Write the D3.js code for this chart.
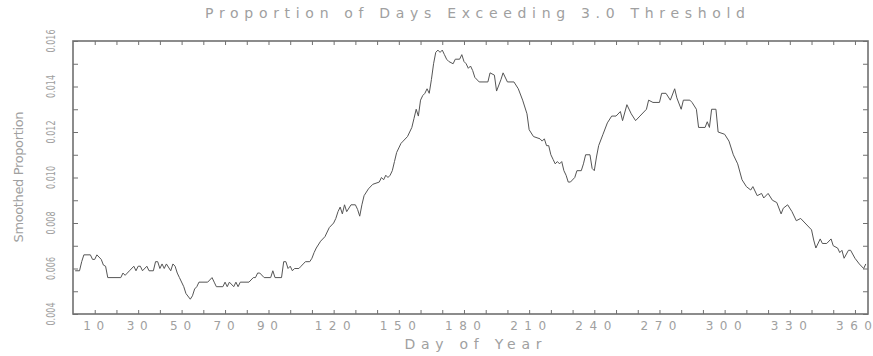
<!DOCTYPE html>
<html>
<head>
<meta charset="utf-8">
<script src="https://cdn.jsdelivr.net/npm/d3@7/dist/d3.min.js"></script>
<style>
  html, body { margin: 0; padding: 0; background: #fff; }
  svg { display: block; }
  text { font-family: "DejaVu Sans", sans-serif; font-weight: normal; fill: #a0a0a0; }
</style>
</head>
<body>
<svg id="chart" width="873" height="356"></svg>
<script>
// ---- data ----
const days = [
  1,3,4,5,8,9,10,11,13,14,
  15,16,22,23,24,25,26,28,29,30,
  31,32,34,35,37,38,39,40,41,42,
  43,45,46,47,48,49,51,52,54,55,
  56,57,58,62,64,65,66,69,70,71,
  72,74,75,76,77,81,83,84,85,86,
  88,91,92,93,96,97,98,99,100,101,
  102,104,105,106,107,109,110,111,112,114,
  116,118,120,121,122,123,124,125,126,128,
  130,131,132,133,134,136,138,141,142,143,
  144,145,146,147,148,149,150,151,152,154,
  156,157,158,159,160,161,162,163,164,165,
  166,167,168,169,170,171,172,173,175,176,
  178,179,180,181,182,183,184,185,187,191,
  192,194,195,197,198,200,203,205,207,209,
  210,212,215,216,217,218,219,220,221,222,
  223,224,225,226,227,228,229,231,232,234,
  235,236,238,239,240,241,242,244,246,248,
  250,252,253,255,257,259,261,264,265,267,
  270,271,273,275,277,278,280,281,284,285,
  287,288,291,292,293,294,296,297,300,302,
  304,306,308,310,312,313,315,317,318,320,
  322,324,326,327,329,331,333,335,337,340,
  341,342,344,345,347,349,350,352,353,354,
  355,357,358,360,362,364,365
];
const proportion = [
  .0059,.0059,.0063,.0066,.0066,.0064,.0064,.0066,.0064,.00615,
  .0061,.0056,.0056,.0058,.0057,.0058,.0059,.0061,.0059,.0061,
  .0061,.0059,.0061,.0059,.0059,.0063,.0063,.0060,.0062,.0060,
  .0062,.0059,.0062,.0061,.0058,.0056,.0052,.0049,.00465,.0048,
  .0051,.0052,.0054,.0054,.0056,.0054,.0052,.0052,.0054,.0052,
  .0054,.0052,.0054,.0052,.0054,.0054,.0056,.0056,.0058,.0058,
  .0056,.0056,.0059,.0056,.0056,.0063,.0063,.0060,.0061,.0059,
  .0060,.0060,.0061,.0062,.0063,.0063,.00645,.0067,.0069,.0072,
  .0074,.0078,.0080,.0082,.0085,.0087,.0084,.0088,.0085,.0088,
  .0088,.0086,.0083,.0088,.0092,.0095,.0097,.0098,.0100,.0099,
  .0101,.0100,.0101,.0103,.0107,.0111,.0113,.0115,.0116,.0118,
  .0122,.0126,.0130,.0127,.0134,.0136,.0137,.0139,.0137,.0143,
  .0150,.0155,.0156,.0155,.0156,.0154,.0152,.0151,.0150,.0152,
  .0152,.0154,.0151,.0150,.0148,.0149,.0147,.0144,.0142,.0142,
  .0146,.0145,.0138,.0143,.0146,.0142,.0142,.0139,.0134,.0128,
  .0121,.0118,.0117,.0116,.0117,.0114,.0114,.0110,.0108,.0106,
  .0107,.0106,.0107,.0103,.0101,.0098,.0098,.0100,.0103,.0103,
  .0106,.0110,.0110,.0104,.0103,.0109,.0114,.0119,.0124,.0127,
  .0127,.0129,.0125,.0132,.0128,.0125,.0127,.0130,.0134,.0133,
  .0133,.0137,.0137,.0134,.0139,.0135,.0130,.0134,.0134,.0133,
  .0130,.0122,.0122,.01245,.0122,.0130,.0130,.0120,.0119,.0116,
  .0110,.0106,.0099,.0096,.00945,.0096,.0092,.0093,.0091,.0093,
  .0090,.0089,.0084,.00865,.0088,.0085,.0081,.0082,.0080,.0077,
  .00725,.0069,.0073,.0071,.0071,.0073,.0070,.0069,.0067,.0068,
  .00645,.0068,.0068,.00645,.0062,.0060,.0062
];
const xLabelTicks = [10,30,50,70,90,120,150,180,210,240,270,300,330,360];
const xMinorTicks = d3.range(10, 361, 10);
const yLabelTicks = [0.004,0.006,0.008,0.010,0.012,0.014,0.016];
const yMinorTicks = [0.004,0.005,0.006,0.007,0.008,0.009,0.010,0.011,0.012,0.013,0.014,0.015,0.016];
const titleText = "Proportion of Days Exceeding 3.0 Threshold";
const xTitle = "Day of Year";
const yTitle = "Smoothed Proportion";

// ---- layout ----
const svg = d3.select("#chart");
const L = 73, R = 868, T = 41, B = 314;
const x = d3.scaleLinear().domain([0, 366]).range([L, R]);
const y = d3.scaleLinear().domain([0.004, 0.016]).range([B, T]);
const axisColor = "#707070";

function styleAxis(g) {
  g.select(".domain").remove();
  g.selectAll(".tick line").attr("stroke", axisColor).attr("stroke-width", 1);
}
svg.append("g").attr("transform", `translate(0,${B})`)
  .call(d3.axisBottom(x).tickValues(xMinorTicks).tickSize(-4).tickFormat(""))
  .call(styleAxis);
svg.append("g").attr("transform", `translate(0,${T})`)
  .call(d3.axisTop(x).tickValues(xMinorTicks).tickSize(-4).tickFormat(""))
  .call(styleAxis);
svg.append("g").attr("transform", `translate(${L},0)`)
  .call(d3.axisLeft(y).tickValues(yMinorTicks).tickSize(-5).tickFormat(""))
  .call(styleAxis);
svg.append("g").attr("transform", `translate(${R},0)`)
  .call(d3.axisRight(y).tickValues(yMinorTicks).tickSize(-5).tickFormat(""))
  .call(styleAxis);

// frame
svg.append("rect")
  .attr("x", L).attr("y", T).attr("width", R - L).attr("height", B - T)
  .attr("fill", "none").attr("stroke", axisColor).attr("stroke-width", 1.6);

// x tick labels (wide-spaced digits)
svg.append("g").selectAll("text").data(xLabelTicks).join("text")
  .attr("x", d => x(d) - 1)
  .attr("y", B + 16)
  .attr("text-anchor", "middle")
  .attr("textLength", d => String(d).length === 2 ? 21 : 36)
  .attr("lengthAdjust", "spacing")
  .style("font-size", "12px")
  .text(d => d);

// y tick labels (rotated)
svg.append("g").selectAll("text").data(yLabelTicks).join("text")
  .attr("transform", d => `translate(55,${y(d)}) rotate(-90)`)
  .attr("text-anchor", "middle")
  .attr("textLength", 23)
  .attr("lengthAdjust", "spacingAndGlyphs")
  .style("font-size", "11.5px")
  .text(d => d3.format(".3f")(d));

// titles
svg.append("text")
  .attr("x", 475).attr("y", 18)
  .attr("text-anchor", "middle")
  .attr("textLength", 540).attr("lengthAdjust", "spacing")
  .style("font-size", "14px")
  .text(titleText);
svg.append("text")
  .attr("x", 473).attr("y", 349)
  .attr("text-anchor", "middle")
  .attr("textLength", 137).attr("lengthAdjust", "spacing")
  .style("font-size", "14px")
  .text(xTitle);
svg.append("text")
  .attr("transform", `translate(23,177) rotate(-90)`)
  .attr("text-anchor", "middle")
  .attr("textLength", 131).attr("lengthAdjust", "spacing")
  .style("font-size", "13px")
  .text(yTitle);

// line
const pts = days.map((d, i) => [d, proportion[i]]);
const line = d3.line().x(d => x(d[0])).y(d => y(d[1])).curve(d3.curveLinear);
svg.append("path")
  .datum(pts)
  .attr("d", line)
  .attr("fill", "none")
  .attr("stroke", "#555555")
  .attr("stroke-width", 1);
</script>
</body>
</html>
